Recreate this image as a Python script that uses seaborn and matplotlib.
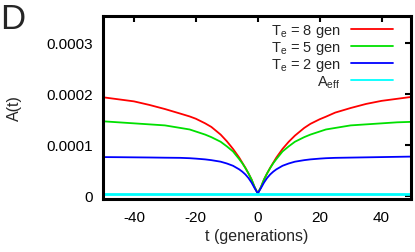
import matplotlib
matplotlib.use("Agg")
import matplotlib.pyplot as plt
import seaborn as sns
import pandas as pd
import numpy as np

# ---- data (units of 1e-4) ----
t = [-50, -45, -40, -35, -30, -25, -22, -20, -17, -15, -12, -10, -8, -6, -5, -4, -3, -2, -1, 0,
     1, 2, 3, 4, 5, 6, 8, 10, 12, 15, 17, 20, 22, 25, 30, 35, 40, 45, 50]
te8 = [1.93, 1.89, 1.85, 1.78, 1.70, 1.61, 1.555, 1.51, 1.42, 1.35, 1.20, 1.07, 0.92, 0.75, 0.65, 0.55, 0.44, 0.32, 0.17, 0.05,
       0.17, 0.32, 0.44, 0.55, 0.65, 0.75, 0.92, 1.06, 1.18, 1.33, 1.41, 1.50, 1.55, 1.63, 1.72, 1.80, 1.86, 1.90, 1.94]
te5 = [1.46, 1.44, 1.42, 1.40, 1.38, 1.33, 1.30, 1.26, 1.20, 1.15, 1.06, 0.97, 0.87, 0.72, 0.64, 0.545, 0.44, 0.32, 0.17, 0.05,
       0.17, 0.32, 0.44, 0.545, 0.64, 0.72, 0.87, 0.97, 1.06, 1.15, 1.20, 1.26, 1.30, 1.33, 1.38, 1.40, 1.42, 1.44, 1.45]
te2 = [0.76, 0.758, 0.755, 0.752, 0.748, 0.745, 0.738, 0.73, 0.715, 0.70, 0.67, 0.635, 0.59, 0.52, 0.475, 0.42, 0.35, 0.26, 0.15, 0.05,
       0.15, 0.26, 0.35, 0.42, 0.475, 0.52, 0.59, 0.635, 0.67, 0.70, 0.715, 0.73, 0.738, 0.745, 0.75, 0.755, 0.76, 0.765, 0.77]
t_eff = [-50, 50]
a_eff = [0.04, 0.04]
labels = ["T$_\\mathregular{e}$ = 8 gen", "T$_\\mathregular{e}$ = 5 gen",
          "T$_\\mathregular{e}$ = 2 gen", "A$_\\mathregular{eff}$"]
colors = ["#ff0000", "#00e000", "#0000ff", "#00ffff"]
xticks = [-40, -20, 0, 20, 40]
yticks = [0, 0.0001, 0.0002, 0.0003]
ytick_labels = ["0", "0.0001", "0.0002", "0.0003"]

sns.set_theme(style="white")
plt.rcParams['font.family'] = ['Liberation Sans', 'DejaVu Sans']
plt.rcParams['mathtext.fontset'] = 'custom'
plt.rcParams['mathtext.rm'] = 'Liberation Sans'

fig = plt.figure(figsize=(4.15, 2.53), dpi=100)
ax = fig.add_axes([103/415, 1-200/253, 308/415, 183/253])

scale = 1e-4
for vals, lab, col, lw in [(te8, labels[0], colors[0], 1.3),
                           (te5, labels[1], colors[1], 1.3),
                           (te2, labels[2], colors[2], 1.3)]:
    df = pd.DataFrame({"t": t, "A": np.array(vals) * scale})
    sns.lineplot(data=df, x="t", y="A", ax=ax, color=col, lw=lw, label=lab)
df = pd.DataFrame({"t": t_eff, "A": np.array(a_eff) * scale})
sns.lineplot(data=df, x="t", y="A", ax=ax, color=colors[3], lw=2.0, label=labels[3])

ax.set_xlim(-50, 49.5)
ax.set_ylim(-0.000006, 0.000352)
ax.set_xticks(xticks)
ax.set_xticklabels([str(v) for v in xticks])
ax.set_yticks(yticks)
ax.set_yticklabels(ytick_labels)
ax.tick_params(direction="in", length=4, width=1.5, top=True, right=True,
               labelsize=11, colors="black")
ax.tick_params(axis="x", pad=8)
ax.tick_params(axis="y", pad=7)
for s in ax.spines.values():
    s.set_linewidth(2.2)
    s.set_color("black")
ax.set_xlabel("t (generations)", fontsize=11.5, labelpad=3)
ax.set_ylabel("A(t)", fontsize=11.5, labelpad=18)

leg = ax.legend(loc="upper right", markerfirst=False, frameon=False, fontsize=10.5,
                handlelength=2.9, handletextpad=0.7, labelspacing=0.0,
                borderaxespad=0.0, bbox_to_anchor=(0.961, 1.0))
for txt in leg.get_texts():
    txt.set_ha("right")
for h in leg.get_lines():
    h.set_linewidth(1.3)
leg._legend_box.align = "right"

fig.text(0.0, 0.99, "D", fontsize=25, va="top", ha="left")

fig.savefig("out.png", dpi=100)
